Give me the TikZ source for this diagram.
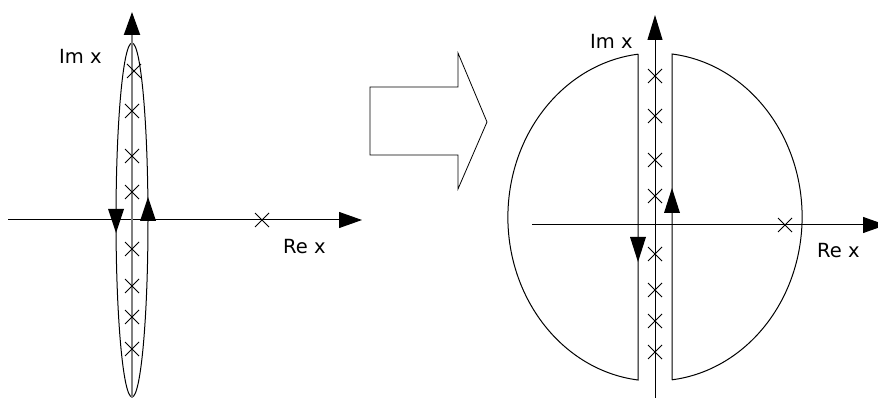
\documentclass[tikz,border=0pt]{standalone}
\usepackage{fontspec}
\setmainfont{DejaVu Sans}
\usetikzlibrary{arrows.meta}
\begin{document}
\begin{tikzpicture}[x=1pt,y=-1pt,
  axisarrow/.style={line width=1pt,-{Triangle[length=23pt,width=16pt]}},
  grayaxis/.style={line width=2pt,draw=black!50,-{Triangle[length=23pt,width=16pt,fill=black,color=black]}},
  contour/.style={line width=1pt},
  lbl/.style={anchor=base west,inner sep=0pt,font=\fontsize{19.5}{22}\selectfont},
  xmark/.pic={\draw[line width=0.8pt] (-7,-7)--(7,7) (-7,7)--(7,-7);}]
\useasboundingbox (0,0) rectangle (878,398);
\clip (0,0) rectangle (878,398);

% ---------- left diagram ----------
\coordinate (LRe0) at (8,220);
\coordinate (LRe1) at (362,220);
\coordinate (LIm0) at (132,398);
\coordinate (LIm1) at (132,12);
\draw[axisarrow] (LRe0) -- (LRe1);
\draw[contour] (132,220) ellipse[x radius=16,y radius=177];
\draw[grayaxis] (LIm0) -- (LIm1);
\fill (108,209) -- (124,209) -- (116,233) -- cycle;
\fill (140,221) -- (156,221) -- (148,197) -- cycle;
\foreach \yy in {111,156,192,249,286,317,349} \pic at (132,\yy) {xmark};
\pic at (134,71) {xmark};
\pic at (262,220) {xmark};
\node[lbl] (LIm) at (59,64) {Im x};
\node[lbl] (LRe) at (283,253) {Re x};

% ---------- block arrow ----------
\draw[line width=0.8pt] (370,87) -- (458,87) -- (458,53) -- (487,122) -- (458,189) -- (458,155) -- (370,155) -- cycle;

% ---------- right diagram ----------
\coordinate (RRe0) at (532,225);
\coordinate (RRe1) at (886,225);
\coordinate (RIm0) at (655,398);
\coordinate (RIm1) at (655,15);
\draw[axisarrow] (RRe0) -- (RRe1);
\draw[line width=1pt,-{Triangle[length=25pt,width=15pt]}] (RIm0) -- (RIm1);
\draw[contour] (638,54) -- (638,380) arc[start angle=96.6,end angle=263.4,x radius=147,y radius=164] -- cycle;
\draw[contour] (672,380) -- (672,54) arc[start angle=-83.4,end angle=83.4,x radius=147,y radius=164] -- cycle;
\fill (630,237) -- (646,237) -- (638,262) -- cycle;
\fill (664,213) -- (680,213) -- (672,188) -- cycle;
\foreach \yy in {76,116,160,196,254,290,321,352} \pic at (655,\yy) {xmark};
\pic at (785,225) {xmark};
\node[lbl] (RIm) at (590,49) {Im x};
\node[lbl] (RRe) at (817,257) {Re x};
\end{tikzpicture}
\end{document}
